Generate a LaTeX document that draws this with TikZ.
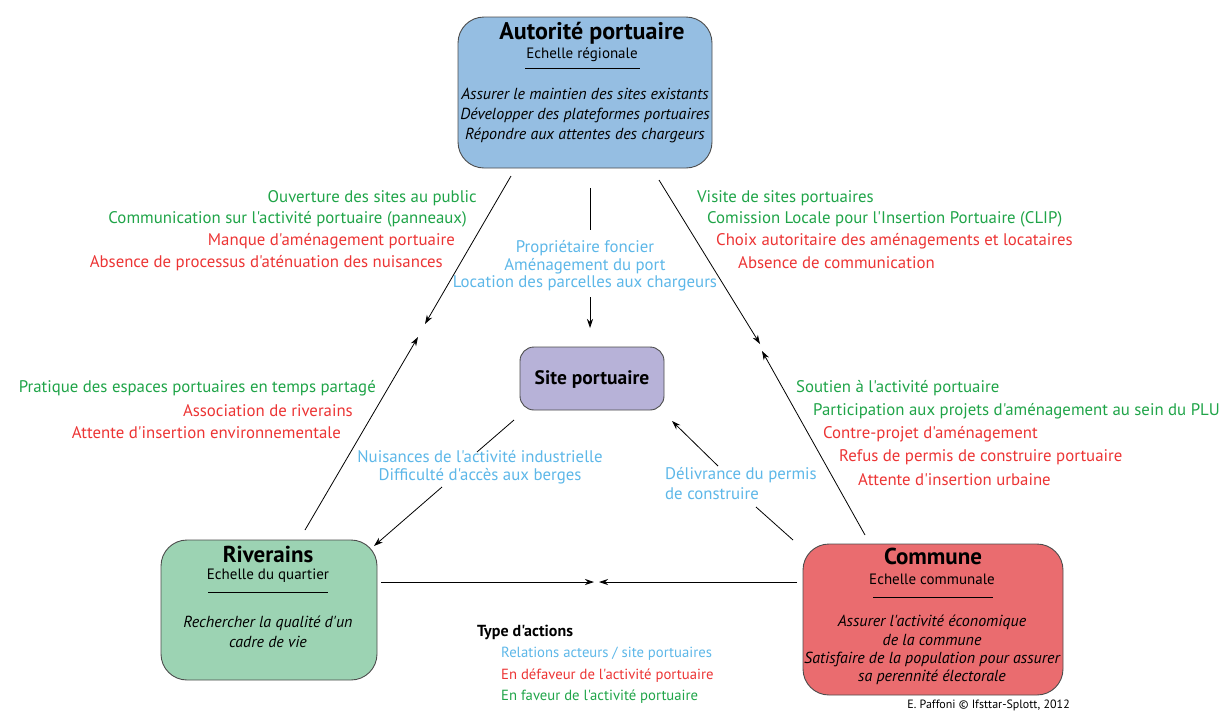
\documentclass[tikz,border=0pt]{standalone}
\usepackage{fontspec}
\setmainfont{PT Sans}[Ligatures=TeXOff]
\usetikzlibrary{arrows.meta}

\definecolor{autfill}{HTML}{95BEE2}
\definecolor{sitefill}{HTML}{B7B2D8}
\definecolor{rivfill}{HTML}{9CD3B3}
\definecolor{comfill}{HTML}{EA6C6F}
\definecolor{pour}{HTML}{1FA448}
\definecolor{contre}{HTML}{EC3434}
\definecolor{rel}{HTML}{5DB7E8}

\tikzset{
  acteur/.style={draw=black!70, line width=0.9pt, rounded corners=26pt},
  lab/.style={font=\fontsize{16.8}{18}\selectfont, inner sep=0pt},
  titre/.style={font=\fontsize{23}{26}\selectfont\bfseries, inner sep=0pt},
  obj/.style={font=\fontsize{16}{20}\selectfont\itshape, inner sep=0pt, align=center},
  fl/.style={-{Stealth[length=9pt,width=6pt]}, line width=0.8pt},
  trait/.style={line width=0.8pt}
}

\begin{document}
\begin{tikzpicture}[x=1pt, y=-1pt]
    \useasboundingbox (0,0) rectangle (1224,713);

    % Boxes of the actors
    \node[acteur, fill=autfill, minimum width=254pt, minimum height=151pt] (aut) at (585,92.5) {};
    \node[acteur, fill=sitefill, minimum width=144pt, minimum height=63pt, rounded corners=14pt] (site) at (592,378.5) {};
    \node[acteur, fill=rivfill, minimum width=216pt, minimum height=140pt] (riv) at (269,610) {};
    \node[acteur, fill=comfill, minimum width=260pt, minimum height=151pt] (com) at (933,619.5) {};

    % Autorite portuaire
    \node[titre, font=\fontsize{24}{26}\selectfont\bfseries] (autT) at (592,33) {Autorité portuaire};
    \node[lab, font=\fontsize{15}{18}\selectfont] (autE) at (582,55) {Echelle régionale};
    \draw[trait] (525,68) -- (640,68);
    \node[obj] (autO) at (585,116) {Assurer le maintien des sites existants\\Développer des plateformes portuaires\\Répondre aux attentes des chargeurs};

    % Site portuaire
    \node[titre, font=\fontsize{19.5}{22}\selectfont\bfseries] (siteT) at (592,379) {Site portuaire};

    % Riverains
    \node[titre] (rivT) at (268,554) {Riverains};
    \node[lab, font=\fontsize{15}{18}\selectfont] (rivE) at (268,576) {Echelle du quartier};
    \draw[trait] (208,592) -- (328,592);
    \node[obj] (rivO) at (268,632) {Rechercher la qualité d'un\\cadre de vie};

    % Commune
    \node[titre] (comT) at (933,556) {Commune};
    \node[lab, font=\fontsize{15}{18}\selectfont] (comE) at (932,579) {Echelle communale};
    \draw[trait] (873,597) -- (993,597);
    \node[obj, font=\fontsize{16}{18.3}\selectfont\itshape] (comO) at (932,650) {Assurer l'activité économique\\de la commune\\Satisfaire de la population pour assurer\\sa perennité électorale};

    % Arrow ends
    \coordinate (al1) at (511,176);
    \coordinate (al2) at (425,324);
    \coordinate (al3) at (305,530);
    \coordinate (al4) at (418,337);
    \coordinate (ar1) at (659,180);
    \coordinate (ar2) at (760,344);
    \coordinate (ar3) at (865,535);
    \coordinate (ar4) at (762,351);
    \coordinate (ac1) at (590,188);
    \coordinate (ac2) at (590,230);
    \coordinate (ac3) at (590,297);
    \coordinate (ac4) at (590,328);
    \coordinate (sr1) at (514,420);
    \coordinate (sr2) at (477,452);
    \coordinate (sr3) at (442,487);
    \coordinate (sr4) at (374,546);
    \coordinate (cs1) at (793,540);
    \coordinate (cs2) at (756,507);
    \coordinate (cs3) at (718,466);
    \coordinate (cs4) at (672,421);
    \coordinate (bh1) at (381,582);
    \coordinate (bh2) at (594,582);
    \coordinate (bh3) at (797,582);
    \coordinate (bh4) at (599,582);

    % Connectors
    \draw[fl] (al1) -- (al2);
    \draw[fl] (al3) -- (al4);
    \draw[fl] (ar1) -- (ar2);
    \draw[fl] (ar3) -- (ar4);
    \draw[trait] (ac1) -- (ac2);
    \draw[fl] (ac3) -- (ac4);
    \draw[trait] (sr1) -- (sr2);
    \draw[fl] (sr3) -- (sr4);
    \draw[trait] (cs1) -- (cs2);
    \draw[fl] (cs3) -- (cs4);
    \draw[fl] (bh1) -- (bh2);
    \draw[fl] (bh3) -- (bh4);

    % Autorite -> Riverains
    \node[lab, pour, anchor=east] (l1) at (477,198) {Ouverture des sites au public};
    \node[lab, pour, anchor=east] (l2) at (467,219) {Communication sur l'activité portuaire (panneaux)};
    \node[lab, contre, anchor=east] (l3) at (455,241) {Manque d'aménagement portuaire};
    \node[lab, contre, anchor=east] (l4) at (443,263) {Absence de processus d'aténuation des nuisances};

    % Autorite -> Commune
    \node[lab, pour, anchor=west] (r1) at (697,198) {Visite de sites portuaires};
    \node[lab, pour, anchor=west] (r2) at (707,219) {Comission Locale pour l'Insertion Portuaire (CLIP)};
    \node[lab, contre, anchor=west] (r3) at (716,241) {Choix autoritaire des aménagements et locataires};
    \node[lab, contre, anchor=west] (r4) at (738,263) {Absence de communication};

    % Autorite -> Site
    \node[lab, rel, align=center, font=\fontsize{16.8}{17.5}\selectfont] (c1) at (585,266) {Propriétaire foncier\\Aménagement du port\\Location des parcelles aux chargeurs};

    % Riverains -> Autorite
    \node[lab, pour, anchor=east] (m1) at (376,388) {Pratique des espaces portuaires en temps partagé};
    \node[lab, contre, anchor=east] (m2) at (353,411) {Association de riverains};
    \node[lab, contre, anchor=east] (m3) at (341,433) {Attente d'insertion environnementale};

    % Commune -> Autorite
    \node[lab, pour, anchor=west] (n1) at (796,388) {Soutien à l'activité portuaire};
    \node[lab, pour, anchor=west] (n2) at (813,411) {Participation aux projets d'aménagement au sein du PLU};
    \node[lab, contre, anchor=west] (n3) at (823,434) {Contre-projet d'aménagement};
    \node[lab, contre, anchor=west] (n4) at (839,457) {Refus de permis de construire portuaire};
    \node[lab, contre, anchor=west] (n5) at (858,480) {Attente d'insertion urbaine};

    % Site -> Riverains
    \node[lab, rel, align=center] (s1) at (480,467) {Nuisances de l'activité industrielle\\Difficulté d'accès aux berges};

    % Commune -> Site
    \node[lab, rel, align=left, anchor=west, font=\fontsize{16.8}{20}\selectfont] (d1) at (665,484) {Délivrance du permis\\de construire};

    % Legend
    \node[lab, anchor=west, font=\fontsize{16}{18}\selectfont\bfseries] (leg) at (477,632) {Type d'actions};
    \node[lab, rel, anchor=west, font=\fontsize{14.7}{16}\selectfont] (leg1) at (501,654) {Relations acteurs / site portuaires};
    \node[lab, contre, anchor=west, font=\fontsize{14.7}{16}\selectfont] (leg2) at (501,676) {En défaveur de l'activité portuaire};
    \node[lab, pour, anchor=west, font=\fontsize{14.7}{16}\selectfont] (leg3) at (501,697) {En faveur de l'activité portuaire};

    \node[lab, anchor=east, font=\fontsize{12}{13}\selectfont] (cred) at (1070,705) {E. Paffoni © Ifsttar-Splott, 2012};
\end{tikzpicture}
\end{document}
